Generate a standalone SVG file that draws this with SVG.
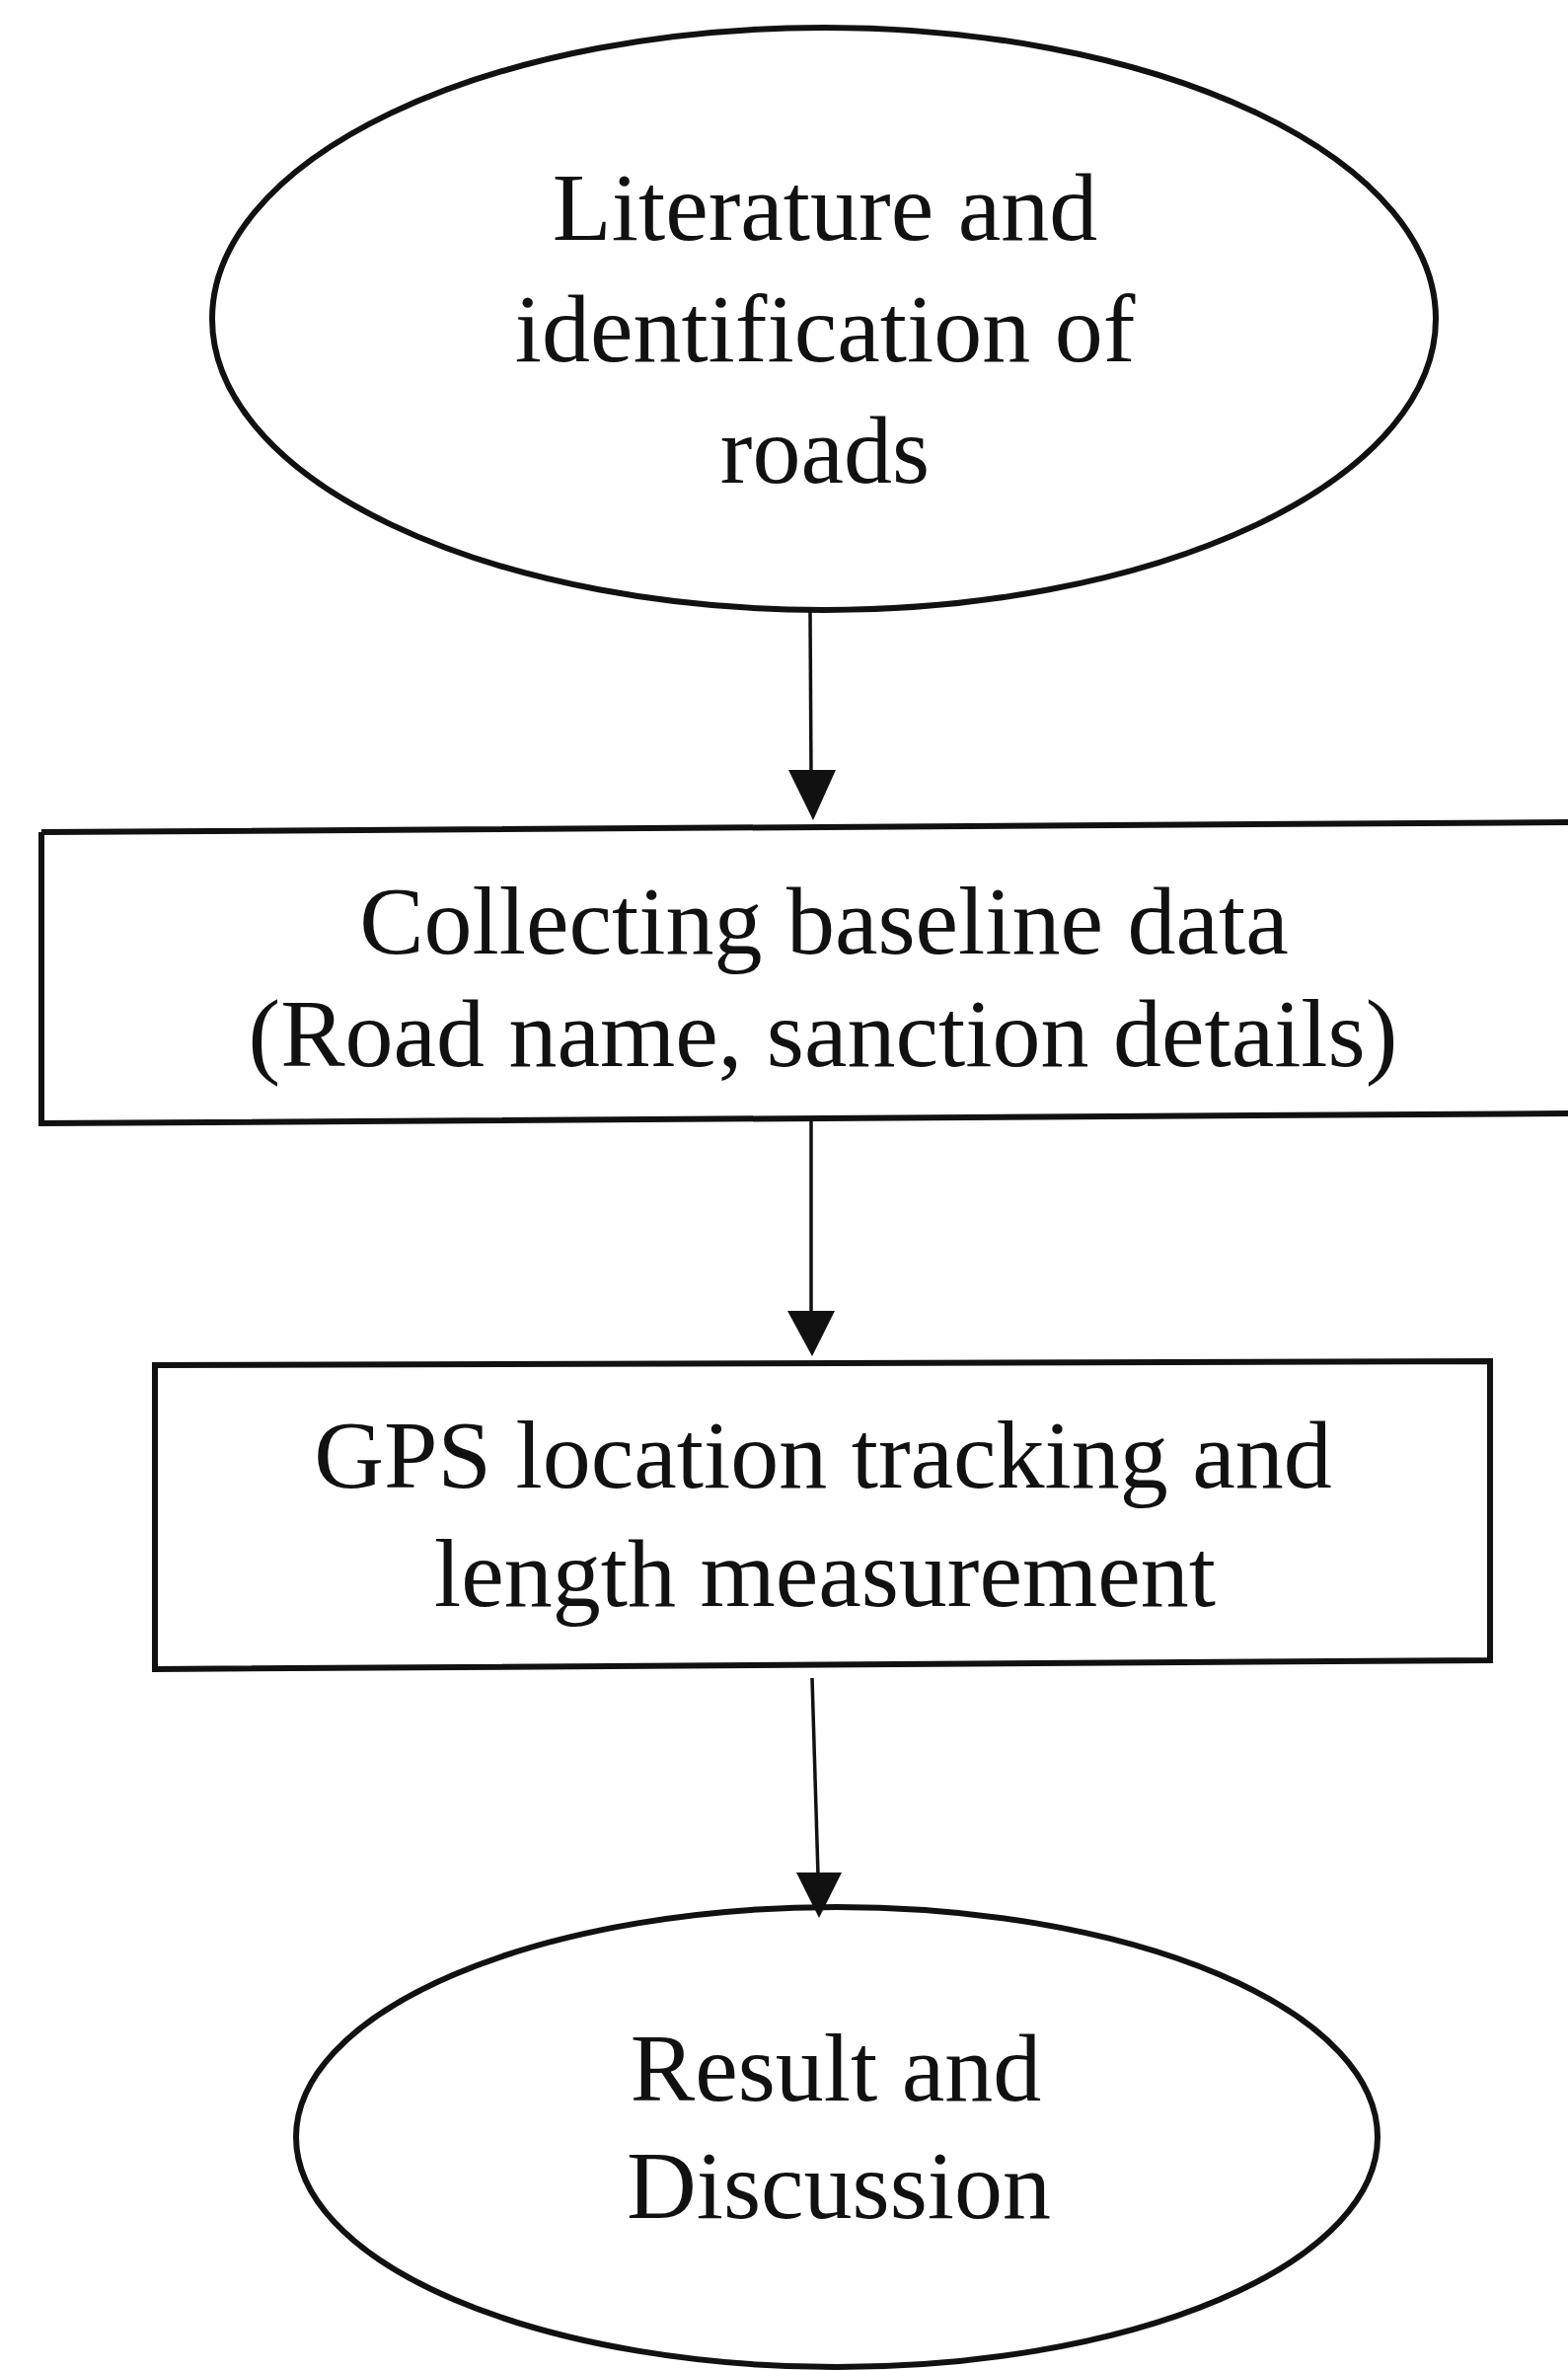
<svg xmlns="http://www.w3.org/2000/svg" width="1589" height="2401" viewBox="0 0 1589 2401">
<style>
.shape{fill:none;stroke:#111;stroke-width:6}
.lbl{font-family:"Liberation Serif","Times New Roman",serif;font-size:98px;fill:#111;text-anchor:middle}
.conn{stroke:#111;stroke-width:3.5;fill:none}
.head{fill:#111}
</style>
<rect width="1589" height="2401" fill="#fff"/>
<g id="node-literature">
<ellipse class="shape" cx="835" cy="323" rx="620" ry="295"/>
<text class="lbl" x="836" y="243">Literature and</text>
<text class="lbl" x="836" y="366">identification of</text>
<text class="lbl" x="836" y="489">roads</text>
</g>
<g id="node-baseline">
<path class="shape" d="M42,843 L1600,833 M42,843 L42,1138 L1600,1128"/>
<text class="lbl" x="835" y="966">Collecting baseline data</text>
<text class="lbl" x="834" y="1080">(Road name, sanction details)</text>
</g>
<g id="node-gps">
<path class="shape" d="M157,1383 L1510,1379 L1510,1682 L157,1691 Z"/>
<text class="lbl" x="834" y="1507">GPS location tracking and</text>
<text class="lbl" x="836" y="1627">length measurement</text>
</g>
<g id="node-result">
<ellipse class="shape" cx="848" cy="2165" rx="548" ry="233"/>
<text class="lbl" x="847" y="2128">Result and</text>
<text class="lbl" x="850" y="2247">Discussion</text>
</g>
<g id="connectors">
<line class="conn" x1="821" y1="620" x2="822" y2="785"/>
<polygon class="head" points="799,780 847,780 824,831"/>
<line class="conn" x1="822" y1="1136" x2="822" y2="1332"/>
<polygon class="head" points="798,1328 846,1328 823,1374"/>
<line class="conn" x1="823" y1="1700" x2="829" y2="1900"/>
<polygon class="head" points="807,1897 853,1897 830,1943"/>
</g>
</svg>
